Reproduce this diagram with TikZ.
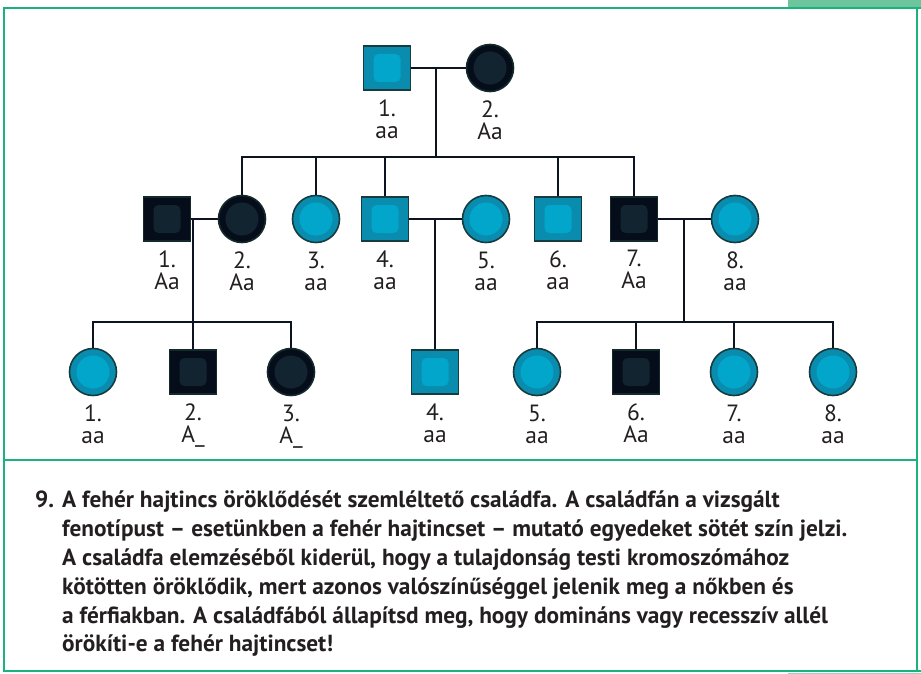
\documentclass[tikz,border=0pt]{standalone}
\usepackage{fontspec}
\setmainfont{PT Sans}
\usetikzlibrary{positioning}

\definecolor{frame}{RGB}{27,179,125}
\definecolor{tab}{RGB}{109,197,157}
\definecolor{tabpale}{RGB}{150,215,185}
\definecolor{ltout}{RGB}{10,140,175}
\definecolor{ltin}{RGB}{2,166,203}
\definecolor{ltrim}{RGB}{22,60,64}
\definecolor{dkout}{RGB}{5,13,26}
\definecolor{dkin}{RGB}{18,36,48}
\definecolor{dkrim}{RGB}{20,42,42}
\definecolor{ink}{RGB}{12,20,34}
\definecolor{txt}{RGB}{35,31,32}

\tikzset{
  ind/.style={inner sep=0pt,line width=1.6pt},
  male/.style={ind,rectangle,minimum width=47pt,minimum height=44pt,fill=#1out,draw=#1rim,
    path picture={\fill[#1in,rounded corners=5pt]
      ([shift={(10pt,8pt)}]path picture bounding box.south west) rectangle
      ([shift={(-10pt,-8pt)}]path picture bounding box.north east);}},
  female/.style={ind,circle,minimum size=47pt,fill=#1out,draw=#1rim,
    path picture={\fill[#1in] (path picture bounding box.center) circle (16.5pt);}},
  lnk/.style={draw=ink,line width=2.4pt},
  lbl/.style={align=center,inner sep=0pt,text=txt,font=\fontsize{23.5}{22}\selectfont,below=8.5pt of #1},
  para/.style={anchor=base west,inner sep=0pt,text=txt,font=\fontsize{23.3}{23}\selectfont\bfseries},
}

\begin{document}
\begin{tikzpicture}[x=1pt,y=-1pt]
\useasboundingbox (0,0) rectangle (921,674);
% frame, tabs and divider
\fill[tab] (788,0) rectangle (921,8);
\fill[tabpale] (788,672.5) rectangle (921,674);
\draw[frame,line width=2.7pt] (921,8) -- (4,8) -- (4,671) -- (921,671);
\draw[frame,line width=2.7pt] (917,8) -- (917,671);
\draw[frame,line width=2.7pt] (4,460) -- (917,460);

% generation I
\node[male=lt] (I1) at (387,68) {};
\node[female=dk] (I2) at (490,68) {};
\node[lbl=I1] (I1t) {1.\\aa};
\node[lbl=I2] (I2t) {2.\\Aa};

% generation II
\node[male=dk] (II1) at (167,219) {};
\node[female=dk] (II2) at (242,219) {};
\node[female=lt] (II3) at (316,219) {};
\node[male=lt] (II4) at (385,219) {};
\node[female=lt] (II5) at (486,219) {};
\node[male=lt] (II6) at (558,219) {};
\node[male=dk] (II7) at (634,219) {};
\node[female=lt] (II8) at (735,219) {};
\node[lbl=II1] (II1t) {1.\\Aa};
\node[lbl=II2] (II2t) {2.\\Aa};
\node[lbl=II3] (II3t) {3.\\aa};
\node[lbl=II4] (II4t) {4.\\aa};
\node[lbl=II5] (II5t) {5.\\aa};
\node[lbl=II6] (II6t) {6.\\aa};
\node[lbl=II7] (II7t) {7.\\Aa};
\node[lbl=II8] (II8t) {8.\\aa};

% generation III
\node[female=lt] (III1) at (93,372) {};
\node[male=dk] (III2) at (193,372) {};
\node[female=dk] (III3) at (291,372) {};
\node[male=lt] (III4) at (435,372) {};
\node[female=lt] (III5) at (537,372) {};
\node[male=dk] (III6) at (636,372) {};
\node[female=lt] (III7) at (734,372) {};
\node[female=lt] (III8) at (833,372) {};
\node[lbl=III1] (III1t) {1.\\aa};
\node[lbl=III2] (III2t) {2.\\A\_};
\node[lbl=III3] (III3t) {3.\\A\_};
\node[lbl=III4] (III4t) {4.\\aa};
\node[lbl=III5] (III5t) {5.\\aa};
\node[lbl=III6] (III6t) {6.\\Aa};
\node[lbl=III7] (III7t) {7.\\aa};
\node[lbl=III8] (III8t) {8.\\aa};

% matings and sibships
\coordinate (m1) at (436,68);
\coordinate (s1) at (436,157);
\draw[lnk] (I1) -- (I2);
\draw[lnk] (m1) -- (s1);
\draw[lnk] (II2) |- (s1) -| (II7);
\foreach \k in {3,4,6} \draw[lnk] (II\k) -- (II\k |- s1);

\coordinate (m2) at (193,219);
\coordinate (s2) at (193,322);
\draw[lnk] (II1) -- (II2);
\draw[lnk] (m2) -- (III2);
\draw[lnk] (III1) |- (s2) -| (III3);

\coordinate (m3) at (435,219);
\draw[lnk] (II4) -- (II5);
\draw[lnk] (m3) -- (III4);

\coordinate (m4) at (684,219);
\coordinate (s4) at (684,322);
\draw[lnk] (II7) -- (II8);
\draw[lnk] (m4) -- (s4);
\draw[lnk] (III5) |- (s4) -| (III8);
\foreach \k in {6,7} \draw[lnk] (III\k) -- (III\k |- s4);

% caption
\node[para] (q9) at (35,507) {9.};
\node[para] (q1) at (62,507) {A fehér hajtincs öröklődését szemléltető családfa. A családfán a vizsgált};
\node[para] (q2) at (62,536) {fenotípust – esetünkben a fehér hajtincset – mutató egyedeket sötét szín jelzi.};
\node[para] (q3) at (62,565) {A családfa elemzéséből kiderül, hogy a tulajdonság testi kromoszómához};
\node[para] (q4) at (62,594) {kötötten öröklődik, mert azonos valószínűséggel jelenik meg a nőkben és};
\node[para] (q5) at (62,623) {a férfiakban. A családfából állapítsd meg, hogy domináns vagy recesszív allél};
\node[para] (q6) at (62,651) {örökíti-e a fehér hajtincset!};
\end{tikzpicture}
\end{document}
